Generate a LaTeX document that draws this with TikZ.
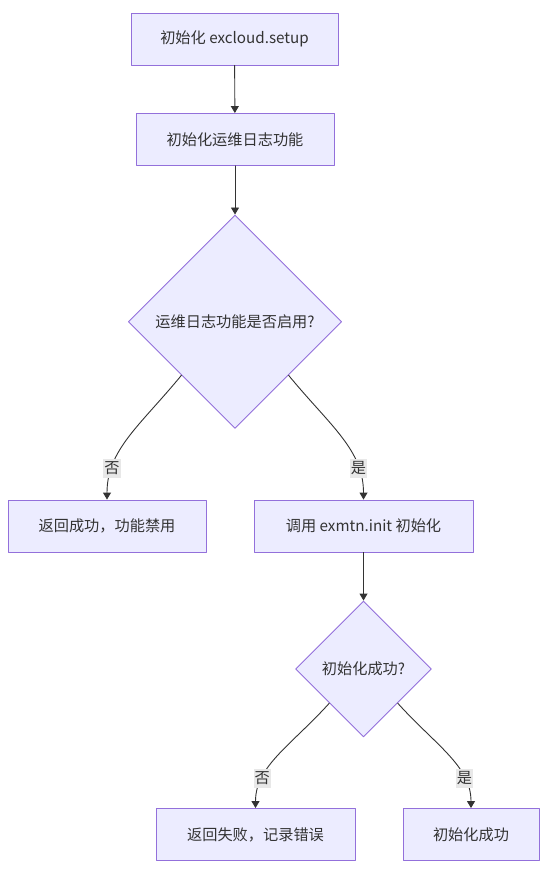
\documentclass[tikz,border=0pt]{standalone}
\usepackage{fontspec}
\setmainfont{Noto Sans CJK SC}
\usetikzlibrary{shapes.geometric,arrows.meta}
\definecolor{boxfill}{HTML}{ECECFF}
\definecolor{boxline}{HTML}{9370DB}
\definecolor{ink}{HTML}{333333}
\definecolor{lblfill}{HTML}{E8E8E8}

\begin{document}
\begin{tikzpicture}[x=1pt,y=-1pt,line cap=round,line join=round,
  every node/.style={font=\fontsize{15.2}{18}\selectfont,text=ink},
  proc/.style={draw=boxline,fill=boxfill,line width=0.9pt,minimum height=52pt,inner sep=0pt},
  cond/.style={draw=boxline,fill=boxfill,line width=0.9pt,diamond,aspect=1,inner sep=0pt},
  flow/.style={draw=ink,line width=0.9pt,-{Triangle[length=7pt,width=8pt]}},
  lbl/.style={fill=lblfill,inner sep=1pt,text height=13pt,text depth=4pt}]
\useasboundingbox (0,0) rectangle (547,874);
\node [proc,minimum width=207pt] (setup) at (234.5,39) {初始化 excloud.setup};
\node [proc,minimum width=198pt] (initlog) at (235,139.5) {初始化运维日志功能};
\node [cond,minimum width=213.4pt,minimum height=213.4pt] (enabled) at (235,321.7) {运维日志功能是否启用?};
\node [proc,minimum width=198pt] (disabled) at (107,526) {返回成功，功能禁用};
\node [proc,minimum width=219pt] (exinit) at (363.5,526) {调用 exmtn.init 初始化};
\node [cond,minimum width=136pt,minimum height=136pt] (ok) at (363.5,669) {初始化成功?};
\node [proc,minimum width=199pt] (fail) at (255.5,834.5) {返回失败，记录错误};
\node [proc,minimum width=136pt] (done) at (471,834.5) {初始化成功};
%\draw the flow
\draw [flow] (setup) -- (initlog);
\draw [flow] (initlog) -- (enabled);
\draw [flow] (enabled.south west) .. controls +(-41,50) and +(0,-50) .. node[lbl,pos=0.77] {否} (disabled.north);
\draw [flow] (enabled.south east) .. controls +(41,50) and +(0,-50) .. node[lbl,pos=0.77] {是} (exinit.north);
\draw [flow] (exinit) -- (ok);
\draw [flow] (ok.south west) .. controls +(-38,42) and +(0,-42) .. node[lbl,pos=0.74] {否} (fail.north);
\draw [flow] (ok.south east) .. controls +(38,42) and +(0,-42) .. node[lbl,pos=0.74] {是} (done.north);
\end{tikzpicture}
\end{document}
